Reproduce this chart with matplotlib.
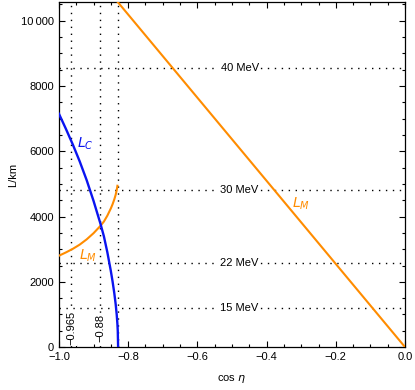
import numpy as np
import matplotlib
matplotlib.use("Agg")
import matplotlib.pyplot as plt
from matplotlib.ticker import MultipleLocator, FuncFormatter

plt.rcParams['font.family'] = ['Liberation Sans', 'DejaVu Sans']
plt.rcParams['mathtext.fontset'] = 'dejavusans'

# core chord length L_C
cos_core = [-1.0, -0.98, -0.96, -0.94, -0.92, -0.90, -0.88, -0.87, -0.86,
            -0.85, -0.845, -0.84, -0.836, -0.833, -0.831, -0.830, -0.829]
L_core = [7150, 6690, 6210, 5690, 5120, 4480, 3780, 3390, 2900,
          2330, 2010, 1650, 1310, 990, 700, 495, 0]

# mantle length L_M for core-crossing trajectories
cos_mantle = [-1.0, -0.98, -0.96, -0.94, -0.92, -0.90, -0.88, -0.87, -0.86,
              -0.85, -0.845, -0.84, -0.836, -0.833, -0.831]
L_mantle = [2800, 2900, 3010, 3140, 3300, 3490, 3716, 3848, 4030,
            4250, 4378, 4527, 4671, 4812, 4944]

# mantle-only trajectories (straight line)
cos_line = [-0.84, 0.0]
L_line = [10700, 0]

# resonance energies and their baselines
energy_labels = ['40 MeV', '30 MeV', '22 MeV', '15 MeV']
energy_L = [8540, 4810, 2565, 1200]

# vertical guide lines
vlines = [-0.965, -0.88, -0.829]
vline_labels = ['\u22120.965', '\u22120.88', None]

blue = '#0a14f0'
orange = '#ff8c00'

fig = plt.figure(figsize=(4.15, 3.9), dpi=100)
ax = fig.add_axes([0.142, 0.110, 0.834, 0.885])

dot = (0, (1, 4))
for yv, lab in zip(energy_L, energy_labels):
    ax.axhline(yv, color='black', lw=1.0, ls=dot, zorder=1)
    ax.text(-0.478, yv, lab, fontsize=8, ha='center', va='center', zorder=2,
            bbox=dict(facecolor='white', edgecolor='none', pad=1.0))
for xv, lab in zip(vlines, vline_labels):
    ax.axvline(xv, color='black', lw=1.0, ls=dot, zorder=1)
    if lab:
        ax.text(xv, 580, lab, fontsize=8, rotation=90, ha='center', va='center',
                zorder=2, bbox=dict(facecolor='white', edgecolor='none', pad=0.5))

ax.plot(cos_line, L_line, color=orange, lw=1.5, zorder=3)
ax.plot(cos_mantle, L_mantle, color=orange, lw=1.5, zorder=3)
ax.plot(cos_core, L_core, color=blue, lw=1.7, zorder=4)

ax.text(-0.925, 6240, '$L_C$', color=blue, fontsize=10, ha='center', va='center')
ax.text(-0.917, 2790, '$L_M$', color=orange, fontsize=10, ha='center', va='center')
ax.text(-0.300, 4400, '$L_M$', color=orange, fontsize=10, ha='center', va='center')

ax.set_xlim(-1.0, 0.0)
ax.set_ylim(0, 10576)
ax.xaxis.set_major_locator(MultipleLocator(0.2))
ax.xaxis.set_minor_locator(MultipleLocator(0.05))
ax.yaxis.set_major_locator(MultipleLocator(2000))
ax.yaxis.set_minor_locator(MultipleLocator(500))
ax.xaxis.set_major_formatter(FuncFormatter(lambda v, p: f'{v:.1f}'.replace('-', '\u2212')))
ax.yaxis.set_major_formatter(FuncFormatter(
    lambda v, p: f'{int(v):,}'.replace(',', '\u2009') if v >= 10000 else f'{int(v)}'))
ax.tick_params(which='both', direction='in', top=True, right=True, labelsize=8, width=0.8)
ax.tick_params(which='major', length=4)
ax.tick_params(which='minor', length=2)
for s in ax.spines.values():
    s.set_linewidth(0.9)

ax.set_xlabel('cos $\\eta$', fontsize=8, labelpad=8)
ax.set_ylabel('L/km', fontsize=8, labelpad=2)

fig.savefig('out.png', dpi=100)
